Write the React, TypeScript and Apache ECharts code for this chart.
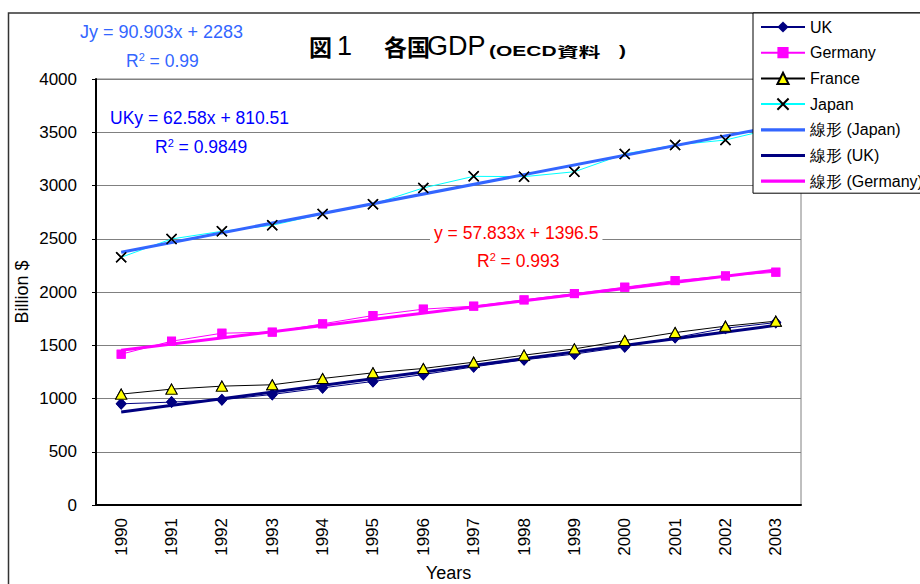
import React, { useEffect, useRef } from "react";
import * as echarts from "echarts";

const years = ["1990", "1991", "1992", "1993", "1994", "1995", "1996", "1997", "1998", "1999", "2000", "2001", "2002", "2003"];
const ukGdp = [950, 966, 988, 1038, 1100, 1160, 1225, 1297, 1363, 1417, 1485, 1572, 1660, 1713];
const germanyGdp = [1416, 1538, 1613, 1623, 1701, 1779, 1839, 1867, 1926, 1985, 2045, 2107, 2151, 2186];
const franceGdp = [1041, 1088, 1116, 1129, 1188, 1241, 1282, 1341, 1407, 1466, 1544, 1619, 1679, 1726];
const japanGdp = [2326, 2498, 2570, 2627, 2733, 2824, 2977, 3086, 3083, 3129, 3296, 3380, 3427, 3540];
// linear trend end points (1990, 2003)
const trendJapan = [2374, 3556];
const trendUK = [873, 1687];
const trendGermany = [1454, 2206];

const FONT = "Liberation Sans";
const CJK = "Noto Sans CJK JP";
const CROSS = "path://M0 0L10 10M10 0L0 10";
const BAR_ICON = "path://M0 0H44V3.2H0Z";

function trendData(ends: number[]) {
  return [
    [years[0], ends[0]],
    [years[years.length - 1], ends[1]],
  ];
}

function r2Text(x: number, y: number, value: string, color: string) {
  return {
    type: "text",
    x,
    y,
    z: 50,
    style: {
      text: "{n|R}{s|2}{n| = " + value + "}",
      fill: color,
      verticalAlign: "middle",
      align: "left",
      rich: {
        n: { fontSize: 17.5, fontFamily: FONT, fill: color, lineHeight: 20 },
        s: { fontSize: 11, fontFamily: FONT, fill: color, lineHeight: 12, verticalAlign: "top" },
      },
    },
  };
}

function titlePiece(text: string, x: number, y: number, family: string, size: number, bold: boolean, scaleX = 1) {
  return {
    type: "text",
    x,
    y,
    scaleX,
    z: 50,
    style: {
      text,
      fill: "#000",
      fontFamily: family,
      fontSize: size,
      fontWeight: bold ? "bold" : "normal",
      align: "left",
      verticalAlign: "middle",
    },
  };
}

export default function App() {
  const ref = useRef<HTMLDivElement>(null);
  useEffect(() => {
    if (!ref.current) return;
    const chart = echarts.init(ref.current, undefined, { renderer: "svg" });
    const markerOverlay = (name: string, data: number[], symbol: string, size: any, itemStyle: any) => ({
      name,
      type: "line",
      data,
      z: 4,
      symbol,
      symbolSize: size,
      showSymbol: true,
      showAllSymbol: true,
      silent: true,
      lineStyle: { width: 0, opacity: 0 },
      itemStyle,
    });
    const ukItem = { color: "#000080", borderColor: "#000080", borderWidth: 0 };
    const deItem = { color: "#FF00FF", borderColor: "#FF00FF", borderWidth: 0 };
    const frItem = { color: "#FFFF00", borderColor: "#000000", borderWidth: 1 };
    const jpItem = { color: "rgba(0,0,0,0)", borderColor: "#000000", borderWidth: 1.5 };
    const option: any = {
      animation: false,
      backgroundColor: "#ffffff",
      textStyle: { fontFamily: FONT },
      grid: {
        show: true, left: 96, top: 79, right: 119, bottom: 79,
        borderColor: "#808080", borderWidth: 1,
        containLabel: false, outerBoundsMode: "none",
      },
      legend: {
        orient: "vertical",
        left: 753,
        top: 13,
        padding: [6, 8, 4, 7],
        itemWidth: 44,
        itemHeight: 14,
        itemGap: 9.7,
        backgroundColor: "#ffffff",
        borderColor: "#000000",
        borderWidth: 1,
        borderRadius: 0,
        textStyle: { fontSize: 16, fontFamily: FONT, color: "#000" },
        data: [
          "UK",
          "Germany",
          "France",
          "Japan",
          { name: "線形 (Japan)", icon: BAR_ICON },
          { name: "線形 (UK)", icon: BAR_ICON },
          { name: "線形 (Germany)", icon: BAR_ICON },
        ],
        z: 20,
      },
      xAxis: {
        type: "category",
        data: years,
        boundaryGap: true,
        name: "Years",
        nameLocation: "middle",
        nameGap: 59,
        nameTextStyle: { fontSize: 18, fontFamily: FONT, color: "#000" },
        axisLine: { lineStyle: { color: "#000", width: 2 } },
        axisTick: { inside: true, length: 6, lineStyle: { color: "#000", width: 1 } },
        axisLabel: { rotate: 90, fontSize: 17, fontFamily: FONT, color: "#000", margin: 13 },
        splitLine: { show: false },
      },
      yAxis: {
        type: "value",
        min: 0,
        max: 4000,
        interval: 500,
        name: "Billion $",
        nameLocation: "middle",
        nameGap: 65,
        nameMoveOverlap: false,
        nameTextStyle: { fontSize: 18, fontFamily: FONT, color: "#000" },
        axisLine: { show: true, lineStyle: { color: "#000", width: 2 } },
        axisTick: { show: true, inside: false, length: 4, lineStyle: { color: "#000" } },
        axisLabel: { fontSize: 17, fontFamily: FONT, color: "#000", margin: 19, formatter: (v: number) => String(v) },
        splitLine: { show: true, lineStyle: { color: "#808080", width: 1 } },
      },
      series: [
        {
          name: "UK", type: "line", data: ukGdp, z: 2,
          symbol: "diamond", symbolSize: [11, 12], showAllSymbol: true,
          lineStyle: { color: "#000080", width: 1 }, itemStyle: ukItem,
        },
        {
          name: "Germany", type: "line", data: germanyGdp, z: 2,
          symbol: "rect", symbolSize: 9, showAllSymbol: true,
          lineStyle: { color: "#FF00FF", width: 1 }, itemStyle: deItem,
        },
        {
          name: "France", type: "line", data: franceGdp, z: 2,
          symbol: "triangle", symbolSize: [11, 10], showAllSymbol: true,
          lineStyle: { color: "#000000", width: 1 }, itemStyle: frItem,
        },
        {
          name: "Japan", type: "line", data: japanGdp, z: 2,
          symbol: CROSS, symbolSize: 10, showAllSymbol: true,
          lineStyle: { color: "#00FFFF", width: 1 }, itemStyle: jpItem,
        },
        {
          name: "線形 (Japan)", type: "line", data: trendData(trendJapan), z: 3,
          symbol: "none", lineStyle: { color: "#3366FF", width: 3 }, itemStyle: { color: "#3366FF" },
        },
        {
          name: "線形 (UK)", type: "line", data: trendData(trendUK), z: 3,
          symbol: "none", lineStyle: { color: "#000080", width: 3 }, itemStyle: { color: "#000080" },
        },
        {
          name: "線形 (Germany)", type: "line", data: trendData(trendGermany), z: 3,
          symbol: "none", lineStyle: { color: "#FF00FF", width: 3 }, itemStyle: { color: "#FF00FF" },
        },
        markerOverlay("_ukm", ukGdp, "diamond", [11, 12], ukItem),
        markerOverlay("_dem", germanyGdp, "rect", 9, deItem),
        markerOverlay("_frm", franceGdp, "triangle", [11, 10], frItem),
        markerOverlay("_jpm", japanGdp, CROSS, 10, jpItem),
      ],
      graphic: [
        {
          type: "rect",
          z: 0,
          silent: true,
          shape: { x: 8.5, y: 13, width: 1000, height: 1000 },
          style: { fill: "none", stroke: "#333333", lineWidth: 1.5 },
        },
        titlePiece("図", 309, 46, CJK, 23, true),
        titlePiece("1", 337, 46, FONT, 27, false),
        titlePiece("各国", 384, 46, CJK, 23, true),
        titlePiece("GDP", 427, 46, FONT, 27, false),
        titlePiece("(OECD", 489, 51, FONT, 14, true, 1.5),
        titlePiece("資料", 557, 51, CJK, 14, true, 1.55),
        titlePiece(")", 619, 51, FONT, 14, true, 1.5),
        {
          type: "text", x: 80, y: 32, z: 50,
          style: { text: "Jy = 90.903x + 2283", fill: "#3366FF", fontSize: 18, fontFamily: FONT, verticalAlign: "middle", align: "left" },
        },
        r2Text(126, 61, "0.99", "#3366FF"),
        {
          type: "text", x: 110, y: 118, z: 50,
          style: { text: "UKy = 62.58x + 810.51", fill: "#0000FF", fontSize: 17.5, fontFamily: FONT, verticalAlign: "middle", align: "left" },
        },
        r2Text(155, 147, "0.9849", "#0000FF"),
        {
          type: "text", x: 430, y: 233, z: 50,
          style: {
            text: "y = 57.833x + 1396.5", fill: "#FF0000", fontSize: 17.5, fontFamily: FONT,
            verticalAlign: "middle", align: "left", backgroundColor: "#ffffff", padding: [1, 4, 1, 4],
          },
        },
        r2Text(477, 261, "0.993", "#FF0000"),
      ],
    };
    chart.setOption(option);
    return () => chart.dispose();
  }, []);
  return <div ref={ref} style={{ position: "fixed", left: 0, top: 0, width: 920, height: 584 }} />;
}
